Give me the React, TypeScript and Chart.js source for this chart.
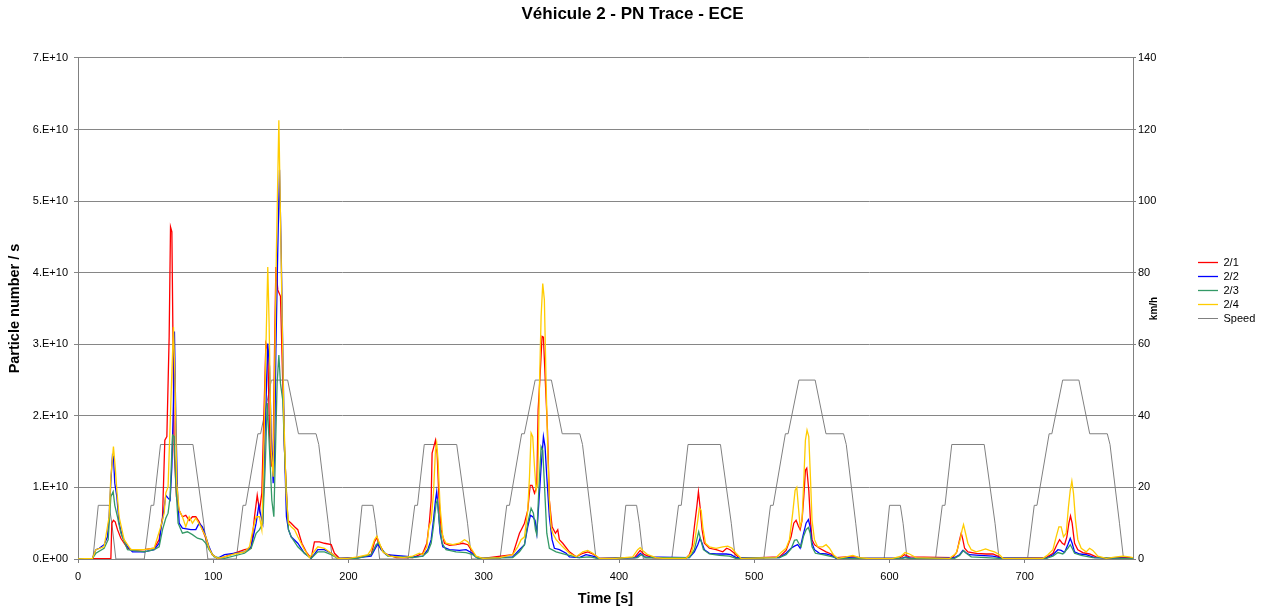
import React, { useEffect, useRef } from 'react';
import { Chart, registerables } from 'chart.js';

Chart.register(...registerables);

const FONT = "'Liberation Sans', Arial, Helvetica, sans-serif";

const TITLE = 'Véhicule 2 - PN Trace - ECE';
const X_TITLE = 'Time [s]';
const Y_TITLE = 'Particle number / s';
const Y2_TITLE = 'km/h';

const SERIES_NAMES = ['2/1', '2/2', '2/3', '2/4', 'Speed'];
const SERIES_COLORS = ['#FF0000', '#0000FF', '#339966', '#FFCC00', '#808080'];

const X_MIN = 0;
const X_MAX = 780;
const X_STEP = 100;
const PN_MAX = 7e10;
const PN_STEP = 1e10;
const SPEED_MAX = 140;
const SPEED_STEP = 20;

// Particle number rates: [time s, particles/s in units of 1e9]
const PN_2_1: [number, number][] = [
  [0, 0], [24.3, 0.1], [25.0, 5.0], [26.2, 5.4], [27.5, 5.2], [29.2, 4.1], [31.7, 2.9], [36.6, 1.5], [41.5, 1.2],
  [48.9, 1.3], [56.3, 1.5], [60.0, 2.7], [62.5, 5.9], [64.2, 16.6], [65.7, 17.1], [67.4, 31.1], [68.4, 46.4],
  [69.4, 45.7], [70.3, 29.2], [71.1, 15.2], [72.8, 8.7], [74.8, 6.8], [77.2, 5.9], [79.7, 6.1], [82.2, 5.4],
  [84.6, 5.9], [87.1, 5.9], [89.6, 5.2], [92.0, 4.1], [94.5, 2.9], [96.9, 1.5], [99.4, 0.6], [103.1, 0.1],
  [108.3, 0.3], [123.1, 1.3], [128.0, 1.5], [130.5, 5.9], [132.5, 8.9], [134.2, 6.8], [135.9, 9.2], [137.4, 19.9],
  [138.9, 30.1], [140.3, 29.2], [141.6, 17.6], [142.8, 12.9], [144.3, 15.2], [145.3, 29.2], [146.3, 40.8],
  [147.7, 37.6], [149.7, 36.7], [151.4, 24.5], [152.7, 15.2], [155.1, 5.4], [157.6, 5.0], [160.1, 4.5],
  [162.5, 4.1], [165.5, 2.2], [168.7, 1.0], [172.4, 0.1], [174.8, 2.4], [178.5, 2.4], [182.2, 2.2], [187.2, 2.0],
  [189.6, 0.8], [193.3, 0.1], [206.9, 0.2], [216.7, 0.6],
  [219.2, 2.4], [221.1, 3.0], [222.9, 2.0], [226.6, 0.8], [235.2, 0.2], [247.5, 0.2], [254.9, 0.8], [257.9, 2.2],
  [259.8, 5.2], [261.1, 8.2], [261.8, 14.8], [262.8, 15.5], [264.3, 16.6], [265.5, 14.8], [266.7, 9.2],
  [268.5, 4.1], [270.9, 2.2], [274.6, 1.9], [279.5, 2.0], [284.5, 2.2], [288.2, 2.0], [290.6, 1.3], [294.3, 0.3],
  [299.3, 0.1],
  [321.4, 0.6], [326.4, 3.6], [328.3, 4.3], [330.1, 5.0], [332.5, 6.8], [334.3, 10.3], [335.7, 10.3], [337.5, 9.2],
  [339.2, 10.1], [340.2, 20.8], [341.6, 25.5], [343.1, 31.1], [344.1, 31.0], [345.6, 24.5], [347.1, 18.0],
  [348.5, 8.2], [350.5, 4.5], [353.0, 3.6], [354.7, 4.1], [355.9, 2.7], [358.4, 2.2], [363.3, 1.0], [368.3, 0.3],
  [373.2, 0.8], [376.9, 1.0], [380.6, 0.7], [385.5, 0.1],
  [411.4, 0.2], [415.6, 1.2], [418.8, 0.6], [424.9, 0.2], [449.6, 0.1], [452.0, 0.6], [454.0, 1.7], [455.7, 4.5],
  [457.5, 7.3], [458.7, 9.4], [459.9, 7.3], [461.4, 4.1], [463.1, 2.2], [466.8, 1.5], [471.8, 1.3], [476.7, 1.0],
  [479.6, 1.5], [482.1, 1.3], [485.3, 0.8], [489.0, 0.1],
  [518.6, 0.3], [523.5, 1.2], [527.2, 3.1], [529.2, 5.0], [530.9, 5.4], [532.6, 4.6], [533.9, 4.1], [535.3, 5.4],
  [536.6, 8.7], [537.8, 12.4], [538.8, 12.7], [540.3, 9.6], [541.5, 5.4], [542.7, 2.7], [544.5, 2.0], [548.2, 1.5],
  [553.1, 1.0], [556.8, 0.7], [560.5, 0.2], [567.9, 0.3], [575.3, 0.3], [580.2, 0.1], [607.3, 0.1], [611.0, 0.6],
  [614.7, 0.3],
  [646.8, 0.2], [649.8, 1.0], [651.8, 2.7], [653.0, 3.6], [654.2, 2.7], [655.5, 1.5], [657.9, 1.0], [664.1, 0.8],
  [671.5, 0.7], [676.4, 0.7], [680.1, 0.4], [682.6, 0.1], [715.8, 0.2], [720.8, 0.8], [723.7, 2.0], [725.7, 2.7],
  [727.7, 2.2], [729.4, 2.0], [731.1, 3.1], [732.6, 5.0], [733.8, 6.0], [735.0, 5.0], [736.8, 2.2], [739.2, 1.3],
  [742.9, 0.9], [747.9, 0.7], [752.8, 0.3], [760.2, 0.1], [770.0, 0.2], [777.4, 0.2], [780, 0.1],
];

const PN_2_2: [number, number][] = [
  [0, 0], [10.7, 0.1], [13.2, 1.3], [15.7, 1.5], [19.3, 2.0], [21.8, 3.1], [23.0, 5.9], [24.3, 10.8], [25.5, 14.5],
  [26.2, 14.3], [27.2, 10.6], [28.7, 8.7], [30.4, 5.0], [32.9, 3.1], [36.6, 1.7], [40.3, 1.0], [48.9, 1.0],
  [56.3, 1.3], [60.0, 2.2], [61.2, 4.1], [63.2, 6.4], [64.9, 8.9], [66.6, 8.5], [68.1, 8.2], [69.4, 12.9],
  [70.6, 22.2], [71.3, 31.8], [72.3, 19.9], [73.5, 9.6], [74.8, 5.0], [77.2, 4.3], [83.4, 4.1], [87.1, 4.1],
  [89.6, 5.0], [92.0, 4.5], [94.5, 3.1], [96.9, 1.7], [99.4, 0.6], [103.1, 0.1],
  [108.3, 0.6], [123.1, 1.0], [128.0, 1.7], [131.7, 5.0], [133.7, 7.5], [135.4, 5.9], [136.6, 5.0], [137.9, 15.2],
  [139.4, 24.5], [140.3, 30.1], [141.6, 26.9], [142.8, 17.6], [144.3, 10.6], [145.3, 14.3], [146.3, 29.2],
  [147.7, 43.2], [149.0, 54.4], [150.2, 43.2], [151.4, 29.2], [152.7, 15.2], [154.1, 5.9], [155.6, 4.1],
  [157.6, 3.1], [162.5, 2.2], [167.4, 0.8], [172.4, 0.1], [177.3, 1.3], [182.2, 1.3], [187.2, 0.8], [192.1, 0.1],
  [206.9, 0.2], [216.7, 0.4],
  [220.4, 1.7], [221.6, 2.1], [224.1, 1.3], [227.8, 0.6], [247.5, 0.3], [254.9, 0.4], [258.6, 1.3], [261.1, 2.7],
  [262.8, 5.4], [264.3, 8.2], [265.2, 9.4], [266.2, 7.3], [267.7, 3.6], [269.7, 1.7], [274.6, 1.3], [282.0, 1.2],
  [286.9, 1.3], [290.6, 0.9], [294.3, 0.3], [299.3, 0.1],
  [321.4, 0.3], [326.4, 1.3], [330.1, 2.0], [332.5, 4.5], [334.5, 6.1], [336.2, 5.9], [337.9, 5.4], [339.2, 3.6],
  [340.7, 7.8], [342.4, 12.9], [344.1, 17.1], [345.3, 15.7], [346.6, 11.5], [348.5, 5.9], [350.5, 2.7],
  [352.2, 1.5], [355.9, 1.3], [360.9, 0.8], [363.3, 0.3], [370.7, 0.2], [375.6, 0.6], [380.6, 0.4], [385.5, 0.1],
  [412.6, 0.2], [415.8, 0.8], [418.8, 0.3], [452.0, 0.2], [455.7, 1.0], [458.2, 2.0], [459.9, 2.9], [461.4, 2.2],
  [463.1, 1.3], [466.8, 0.8], [471.8, 0.7], [479.2, 0.7], [482.8, 0.6], [486.5, 0.2],
  [518.6, 0.2], [523.5, 0.8], [527.2, 1.5], [529.7, 1.8], [532.1, 2.0], [533.9, 1.5], [535.8, 3.1], [538.3, 5.0],
  [540.0, 5.5], [541.3, 4.5], [542.7, 2.2], [544.5, 1.3], [548.2, 0.8], [553.1, 0.7], [556.8, 0.5], [560.5, 0.1],
  [570.3, 0.2], [577.7, 0.1], [609.0, 0.1], [612.0, 0.3], [616.0, 0.1],
  [648.1, 0.2], [651.8, 0.6], [654.2, 1.2], [656.2, 0.9], [659.2, 0.6], [666.5, 0.5], [676.4, 0.4], [681.3, 0.2],
  [715.8, 0.1], [720.8, 0.6], [724.5, 1.3], [726.9, 1.2], [729.4, 0.9], [731.8, 2.0], [733.6, 2.9], [735.0, 2.2],
  [736.8, 1.0], [740.5, 0.7], [745.4, 0.6], [751.6, 0.2], [780, 0.1],
];

const PN_2_3: [number, number][] = [
  [0, 0], [10.7, 0.1], [13.2, 0.8], [19.3, 1.5], [22.3, 2.7], [24.3, 8.7], [26.0, 9.4], [27.2, 7.5], [29.2, 5.9],
  [31.7, 3.6], [36.6, 1.3], [48.9, 1.0], [56.3, 1.3], [60.0, 1.7], [62.5, 4.1], [64.9, 5.7], [66.6, 6.4],
  [68.1, 8.7], [69.9, 17.3], [71.1, 17.1], [72.3, 10.6], [74.0, 5.0], [77.2, 3.6], [80.9, 3.8], [84.6, 3.4],
  [88.3, 2.9], [92.0, 2.7], [94.5, 2.2], [96.9, 1.3], [100.7, 0.3],
  [108.3, 0.1], [123.1, 0.8], [128.0, 1.5], [131.7, 3.6], [134.2, 4.1], [136.6, 5.0], [138.4, 12.9], [139.9, 21.8],
  [141.6, 15.2], [143.3, 8.2], [144.8, 5.9], [146.0, 15.2], [147.2, 24.5], [148.5, 28.5], [149.7, 24.5],
  [151.4, 22.2], [152.7, 15.2], [154.1, 9.2], [155.6, 4.1], [157.6, 3.1], [162.5, 1.7], [167.4, 0.8], [172.4, 0.1],
  [177.3, 1.0], [182.2, 1.0], [187.2, 0.6], [192.1, 0.1], [206.9, 0.1], [216.7, 0.6],
  [220.4, 2.0], [222.1, 2.3], [224.8, 1.3], [229.0, 0.4], [247.5, 0.2], [254.9, 0.4], [258.6, 1.0], [261.1, 2.2],
  [262.8, 4.5], [264.8, 7.8], [265.7, 8.2], [267.2, 5.0], [269.2, 2.2], [272.1, 1.3], [279.5, 1.0], [286.9, 0.9],
  [291.9, 0.6], [295.6, 0.1],
  [321.4, 0.2], [326.4, 1.0], [330.1, 2.0], [332.5, 5.0], [335.0, 7.1], [336.7, 6.4], [338.2, 4.1], [339.2, 3.4],
  [340.7, 9.6], [342.4, 15.7], [343.6, 15.2], [344.8, 10.6], [346.6, 3.6], [348.5, 1.5], [353.5, 1.0],
  [360.9, 0.6], [370.7, 0.2], [378.1, 0.3], [385.5, 0.05],
  [413.8, 0.2], [416.3, 0.6], [420.0, 0.2], [452.0, 0.2], [455.7, 1.3], [457.5, 2.7], [458.9, 3.8], [460.4, 2.7],
  [462.4, 1.3], [466.8, 0.7], [474.2, 0.5], [481.6, 0.4], [486.5, 0.1],
  [518.6, 0.2], [523.5, 0.6], [527.2, 1.4], [529.7, 2.6], [531.4, 2.7], [532.9, 2.2], [534.6, 1.7], [536.3, 3.1],
  [538.3, 4.1], [540.0, 4.4], [541.3, 3.6], [542.7, 1.7], [545.2, 0.8], [550.6, 0.6], [558.0, 0.3], [561.7, 0.1],
  [609.0, 0.1], [612.0, 0.2], [616.0, 0.05],
  [648.1, 0.1], [651.8, 0.5], [654.7, 1.2], [656.7, 0.8], [660.4, 0.3], [671.5, 0.2], [681.3, 0.1], [715.8, 0.1],
  [720.8, 0.4], [724.5, 0.9], [728.1, 0.7], [731.8, 1.5], [733.6, 2.0], [735.0, 1.5], [736.8, 0.8], [741.7, 0.5],
  [750.3, 0.2], [780, 0.05],
];

const PN_2_4: [number, number][] = [
  [0, 0], [10.7, 0.1], [13.2, 1.3], [19.3, 1.7], [23.0, 5.9], [24.3, 11.5], [26.2, 15.7], [27.5, 12.9], [28.7, 9.6],
  [30.4, 5.9], [34.1, 2.7], [39.1, 1.3], [48.9, 1.3], [56.3, 1.5], [61.2, 4.5], [63.7, 6.4], [64.9, 9.2],
  [66.6, 10.1], [69.1, 24.5], [70.6, 32.4], [71.8, 24.5], [73.0, 10.6], [74.8, 6.8], [77.2, 5.9], [79.7, 4.5],
  [82.2, 5.9], [84.6, 5.0], [87.1, 5.7], [90.8, 4.5], [94.5, 3.1], [96.9, 1.5], [99.4, 0.6], [103.1, 0.1],
  [108.3, 0.3], [115.7, 0.7], [123.1, 1.0], [126.8, 1.7], [129.3, 4.1], [131.7, 5.9], [134.2, 5.9], [135.9, 4.1],
  [137.4, 15.2], [138.9, 29.2], [140.3, 40.8], [141.3, 32.9], [142.8, 15.2], [144.3, 11.5], [145.3, 24.5],
  [146.7, 43.2], [148.5, 61.3], [149.7, 47.8], [150.9, 33.9], [152.2, 19.9], [153.9, 9.2], [155.6, 5.0],
  [157.6, 4.5], [160.1, 4.1], [162.5, 3.1], [167.4, 1.3], [171.1, 0.2], [173.6, 0.8], [177.3, 1.7], [182.2, 1.5],
  [187.2, 0.8], [192.1, 0.1], [199.5, 0.1], [206.9, 0.3], [214.3, 0.6],
  [216.7, 1.3], [219.2, 2.7], [220.9, 3.2], [222.9, 2.2], [225.3, 1.0], [230.3, 0.4], [240.1, 0.2], [247.5, 0.4],
  [252.4, 0.8], [254.9, 0.6], [257.9, 1.7], [259.3, 4.3], [261.1, 5.4], [262.8, 9.2], [264.3, 15.2], [265.2, 16.2],
  [266.2, 13.8], [267.7, 7.3], [269.7, 3.1], [272.1, 2.2], [277.1, 2.0], [282.0, 2.2], [285.7, 2.7], [288.2, 2.4],
  [290.6, 1.5], [294.3, 0.4], [299.3, 0.1],
  [311.6, 0.2], [321.4, 0.6], [325.1, 1.7], [327.6, 2.7], [330.1, 3.1], [332.5, 6.8], [333.8, 11.5], [335.0, 17.6],
  [336.2, 17.1], [337.5, 12.9], [338.7, 9.6], [339.9, 10.6], [341.2, 24.5], [342.4, 33.9], [343.6, 38.5],
  [344.8, 36.2], [346.1, 24.5], [347.3, 15.2], [348.5, 8.2], [349.8, 4.5], [351.0, 3.6], [353.5, 2.7],
  [358.4, 1.7], [363.3, 0.8], [368.3, 0.3], [373.2, 1.0], [376.9, 1.2], [380.6, 0.8], [385.5, 0.1], [397.8, 0.1],
  [410.1, 0.3], [413.8, 1.3], [415.6, 1.6], [417.5, 1.2], [421.2, 0.6], [427.4, 0.2], [432.3, 0.1], [449.6, 0.1],
  [453.3, 0.8], [455.7, 2.2], [458.2, 5.4], [459.4, 7.1], [460.7, 6.8], [461.9, 4.5], [463.9, 2.2], [466.8, 1.7],
  [471.8, 1.5], [476.7, 1.7], [480.4, 1.8], [483.6, 1.5], [486.5, 0.8], [490.2, 0.1],
  [516.1, 0.2], [519.8, 0.9], [523.5, 1.5], [526.0, 2.7], [528.4, 6.4], [530.2, 9.6], [531.4, 10.0], [532.6, 7.3],
  [533.9, 4.5], [535.3, 5.4], [536.6, 11.0], [537.8, 16.6], [539.0, 18.0], [540.3, 17.1], [541.5, 11.5],
  [542.7, 5.4], [544.5, 2.7], [546.9, 1.7], [550.6, 1.7], [553.1, 2.0], [555.6, 1.5], [558.5, 0.6], [561.7, 0.1],
  [567.9, 0.3], [572.8, 0.5], [577.7, 0.2], [585.1, 0.05], [602.4, 0.1], [608.5, 0.4], [611.5, 0.9], [614.7, 0.7],
  [619.6, 0.2],
  [644.4, 0.1], [649.3, 0.8], [652.2, 2.7], [653.7, 4.1], [654.7, 4.8], [656.2, 3.6], [657.9, 2.2], [660.4, 1.3],
  [664.1, 1.0], [667.8, 1.2], [671.0, 1.4], [673.9, 1.2], [677.6, 1.0], [681.3, 0.6], [683.8, 0.1], [713.4, 0.1],
  [717.1, 0.6], [720.8, 1.3], [723.2, 3.1], [725.2, 4.5], [726.9, 4.5], [728.6, 3.1], [730.6, 3.6], [732.3, 7.3],
  [733.6, 9.6], [734.8, 10.9], [736.0, 9.2], [737.5, 5.4], [739.2, 2.7], [741.7, 1.5], [745.4, 1.0], [747.9, 1.5],
  [750.3, 1.2], [754.0, 0.4], [760.2, 0.1], [767.6, 0.3], [772.5, 0.4], [777.4, 0.3], [780, 0.2],
];

// Vehicle speed along the four urban ECE cycles: [time s, km/h]
const SPEED_KMH: [number, number][] = [
  [0, 0], [11, 0], [15, 15], [23, 15], [25, 10], [28, 0], [49, 0], [54, 15], [56, 15], [61, 32], [85, 32], [93, 10],
  [96, 0], [117, 0], [122, 15], [124, 15], [133, 35], [135, 35], [143, 50], [155, 50], [163, 35], [176, 35],
  [178, 32], [185, 10], [188, 0],
  [195, 0], [206, 0], [210, 15], [218, 15], [220, 10], [223, 0], [244, 0], [249, 15], [251, 15], [256, 32],
  [280, 32], [288, 10], [291, 0], [312, 0], [317, 15], [319, 15], [328, 35], [330, 35], [338, 50], [350, 50],
  [358, 35], [371, 35], [373, 32], [380, 10], [383, 0],
  [390, 0], [401, 0], [405, 15], [413, 15], [415, 10], [418, 0], [439, 0], [444, 15], [446, 15], [451, 32],
  [475, 32], [483, 10], [486, 0], [507, 0], [512, 15], [514, 15], [523, 35], [525, 35], [533, 50], [545, 50],
  [553, 35], [566, 35], [568, 32], [575, 10], [578, 0],
  [585, 0], [596, 0], [600, 15], [608, 15], [610, 10], [613, 0], [634, 0], [639, 15], [641, 15], [646, 32],
  [670, 32], [678, 10], [681, 0], [702, 0], [707, 15], [709, 15], [718, 35], [720, 35], [728, 50], [740, 50],
  [748, 35], [761, 35], [763, 32], [770, 10], [773, 0], [780, 0],
];

const PN_UNIT = 1e9;

function sciLabel(v: number): string {
  if (v === 0) return '0.E+00';
  const exp = Math.floor(Math.log10(v) + 1e-9);
  const mant = Math.round(v / Math.pow(10, exp));
  return `${mant}.E+${String(exp).padStart(2, '0')}`;
}

const toPn = (rows: [number, number][]) => rows.map(([t, v]) => ({ x: t, y: v * PN_UNIT }));
const toSpeed = (rows: [number, number][]) => rows.map(([t, v]) => ({ x: t, y: v }));

// Draws the secondary axis caption reading bottom-to-top beside the right axis
const rightAxisTitle = {
  id: 'rightAxisTitle',
  afterDraw(chart: any) {
    const s = chart.scales.y1;
    const { ctx, chartArea } = chart;
    ctx.save();
    ctx.translate(s.left + 21, (chartArea.top + chartArea.bottom) / 2);
    ctx.rotate(-Math.PI / 2);
    ctx.font = `bold 10px ${FONT}`;
    ctx.fillStyle = '#000';
    ctx.textAlign = 'center';
    ctx.textBaseline = 'middle';
    ctx.fillText(Y2_TITLE, 0, 0);
    ctx.restore();
  },
};

export default function App() {
  const canvasRef = useRef<HTMLCanvasElement>(null);

  useEffect(() => {
    const canvas = canvasRef.current;
    if (!canvas) return;

    const pnSeries = [PN_2_1, PN_2_2, PN_2_3, PN_2_4];
    const drawOrder = [4, 3, 2, 1];

    const datasets: any[] = pnSeries.map((rows, i) => ({
      label: SERIES_NAMES[i],
      data: toPn(rows),
      borderColor: SERIES_COLORS[i],
      backgroundColor: SERIES_COLORS[i],
      borderWidth: 1.3,
      pointRadius: 0,
      pointHoverRadius: 0,
      tension: 0,
      yAxisID: 'y',
      order: drawOrder[i],
    }));
    datasets.push({
      label: SERIES_NAMES[4],
      data: toSpeed(SPEED_KMH),
      borderColor: SERIES_COLORS[4],
      backgroundColor: SERIES_COLORS[4],
      borderWidth: 1,
      pointRadius: 0,
      pointHoverRadius: 0,
      tension: 0,
      yAxisID: 'y1',
      order: 5,
    });

    const tickFont = { family: FONT, size: 11 };
    const axisColor = '#808080';

    const chart = new Chart(canvas, {
      type: 'line',
      data: { datasets },
      plugins: [rightAxisTitle],
      options: {
        responsive: false,
        animation: false,
        devicePixelRatio: 1,
        layout: { padding: { left: 0, right: 3, top: 0, bottom: 0 } },
        plugins: {
          title: {
            display: true,
            text: TITLE,
            color: '#000',
            font: { family: FONT, size: 17, weight: 'bold' },
            padding: { top: 3.8, bottom: 33.8 },
          },
          legend: {
            position: 'right',
            align: 'start',
            maxWidth: 70,
            title: { display: true, text: ' ', font: { size: 1 }, padding: { top: 252.8, bottom: 0 } },
            labels: {
              usePointStyle: true,
              pointStyle: 'line',
              pointStyleWidth: 20,
              padding: 3,
              color: '#000',
              font: { family: FONT, size: 11 },
              sort: (a: any, b: any) => a.datasetIndex - b.datasetIndex,
            },
          },
          tooltip: { enabled: false },
        },
        scales: {
          x: {
            type: 'linear',
            min: X_MIN,
            max: X_MAX,
            ticks: { stepSize: X_STEP, includeBounds: false, color: '#000', font: tickFont, padding: 7, maxRotation: 0 },
            grid: { drawOnChartArea: false, tickLength: 4, color: axisColor },
            border: { display: true, color: axisColor },
            title: {
              display: true,
              text: X_TITLE,
              color: '#000',
              font: { family: FONT, size: 14.5, weight: 'bold' },
              padding: { top: 0, bottom: 4.3 },
            },
            afterFit: (s: any) => { s.height = 53; },
          },
          y: {
            type: 'linear',
            position: 'left',
            min: 0,
            max: PN_MAX,
            ticks: { stepSize: PN_STEP, color: '#000', font: tickFont, padding: 6, callback: (v: any) => sciLabel(Number(v)) },
            grid: { drawOnChartArea: true, tickLength: 4, color: '#868686' },
            border: { display: true, color: axisColor },
            title: {
              display: true,
              text: Y_TITLE,
              color: '#000',
              font: { family: FONT, size: 14.5, weight: 'bold' },
              padding: { top: 6.3, bottom: 0 },
            },
            afterFit: (s: any) => { s.width = 78; },
          },
          y1: {
            type: 'linear',
            position: 'right',
            min: 0,
            max: SPEED_MAX,
            ticks: { stepSize: SPEED_STEP, color: '#000', font: tickFont, padding: 2 },
            grid: { drawOnChartArea: false, tickLength: 3, color: axisColor },
            border: { display: true, color: axisColor },
            afterFit: (s: any) => { s.width = 62; },
          },
        },
      } as any,
    });

    return () => chart.destroy();
  }, []);

  return (
    <div style={{ position: 'absolute', left: 0, top: 0, width: 1268, height: 612, background: '#fff' }}>
      <canvas ref={canvasRef} width={1268} height={612} style={{ display: 'block', width: 1268, height: 612 }} />
    </div>
  );
}
